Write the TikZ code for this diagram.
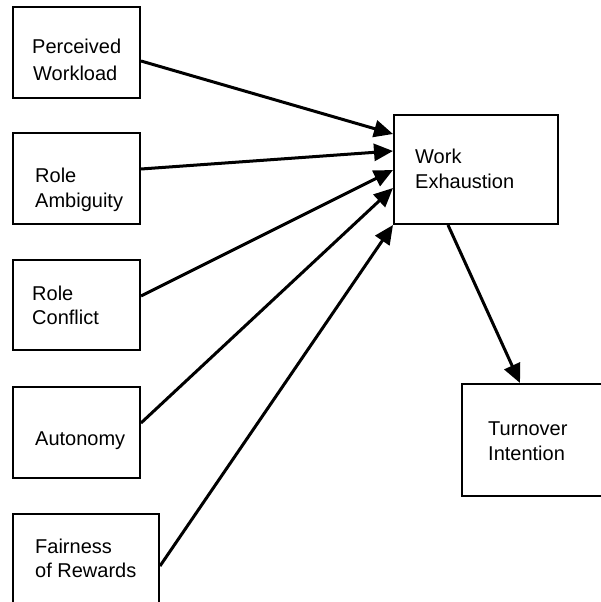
\documentclass[tikz,border=0pt]{standalone}
\usepackage{fontspec}
\setmainfont{Liberation Sans}
\usetikzlibrary{arrows.meta}
\begin{document}
\begin{tikzpicture}[x=1pt,y=-1pt,
  box/.style={draw,line width=2pt,inner sep=0pt,anchor=north west},
  lbl/.style={inner sep=0pt,anchor=base west,font=\fontsize{20}{25}\selectfont},
  arr/.style={line width=3pt,-{Triangle[length=19pt,width=17pt]}}]
\clip (0,0) rectangle (601,602);
\fill[white] (0,0) rectangle (601,602);
% boxes
\node[box,minimum width=127pt,minimum height=91pt] (b1) at (12,6) {};
\node[box,minimum width=127pt,minimum height=91pt] (b2) at (12,132) {};
\node[box,minimum width=127pt,minimum height=90pt] (b3) at (12,259) {};
\node[box,minimum width=127pt,minimum height=91pt] (b4) at (12,386) {};
\node[box,minimum width=146pt,minimum height=91pt] (b5) at (12,513) {};
\node[box,minimum width=164pt,minimum height=109pt] (we) at (393,114) {};
\node[box,minimum width=159pt,minimum height=112pt] (ti) at (461,383) {};
% labels
\node[lbl] (t1a) at (32,54) {Perceived};
\node[lbl] (t1b) at (33,81) {Workload};
\node[lbl] (t2a) at (35,182) {Role};
\node[lbl] (t2b) at (35,207) {Ambiguity};
\node[lbl] (t3a) at (32,300) {Role};
\node[lbl] (t3b) at (32,324) {Conflict};
\node[lbl] (t4a) at (35,445) {Autonomy};
\node[lbl] (t5a) at (35,553) {Fairness};
\node[lbl] (t5b) at (35,577) {of Rewards};
\node[lbl] (t6a) at (415,163) {Work};
\node[lbl] (t6b) at (415,188) {Exhaustion};
\node[lbl] (t7a) at (488,435) {Turnover};
\node[lbl] (t7b) at (488,460) {Intention};
% connectors
\draw[arr] ([yshift=-8.5pt]b1.east) -- ([yshift=35.5pt]we.west);
\draw[arr] ([yshift=9.5pt]b2.east) -- ([yshift=18.5pt]we.west);
\draw[arr] ([yshift=9pt]b3.east) -- ([yshift=-0.5pt]we.west);
\draw[arr] ([yshift=9.5pt]b4.east) -- ([yshift=-18.5pt]we.west);
\draw[arr] ([yshift=-6.5pt]b5.east) -- (we.south west);
\draw[arr] ([xshift=-28pt]we.south) -- ([xshift=-21.5pt]ti.north);
\end{tikzpicture}
\end{document}
